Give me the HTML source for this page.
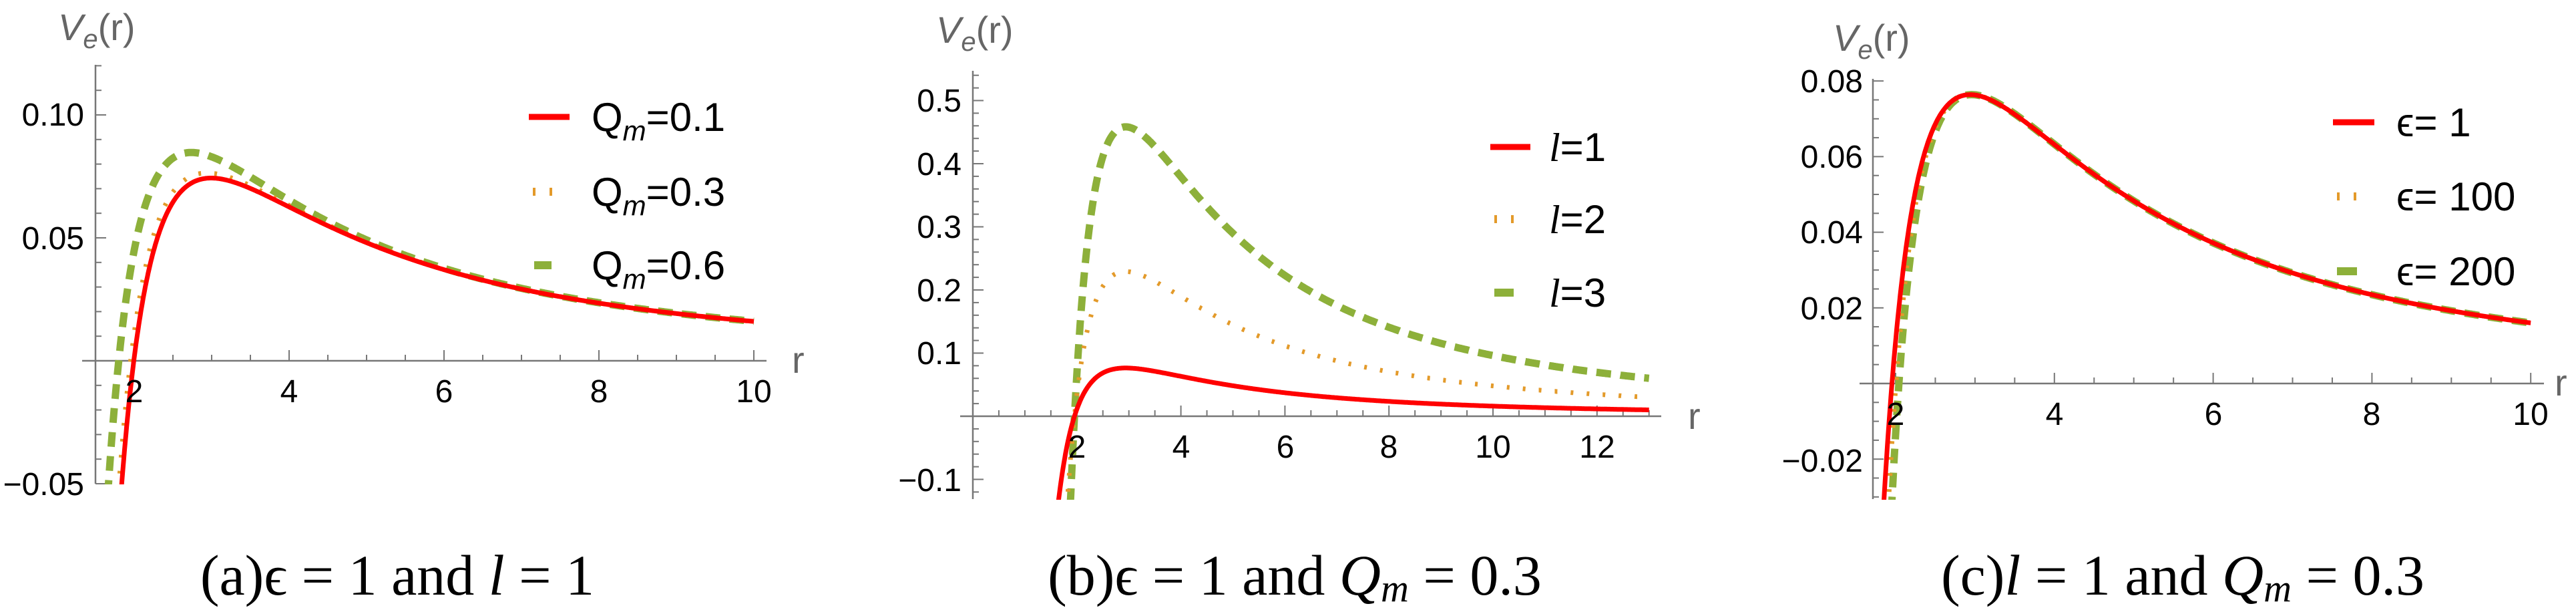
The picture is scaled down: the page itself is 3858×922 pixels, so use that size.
<!DOCTYPE html>
<html><head><meta charset="utf-8">
<style>
html,body{margin:0;padding:0;background:#fff;width:3858px;height:922px;overflow:hidden;}
svg{display:block;}
text{font-family:"Liberation Sans",sans-serif;}
.tk{font-size:48px;fill:#000;}
.cap{font-family:"Liberation Serif",serif;font-size:86px;fill:#000;}
.lg{font-size:60px;fill:#000;}
.ve{font-size:56px;fill:#666;}
</style></head>
<body>
<svg id="s" width="3858" height="922" viewBox="0 0 3858 922" xmlns="http://www.w3.org/2000/svg">
<defs>
<clipPath id="ca"><rect x="100" y="80" width="1100" height="645"/></clipPath>
<clipPath id="cb"><rect x="1400" y="80" width="1100" height="668"/></clipPath>
<clipPath id="cc"><rect x="2780" y="90" width="1050" height="658"/></clipPath>
</defs>
<g id="g"></g>
<text class="ve" x="87" y="60"><tspan font-style="italic">V</tspan><tspan font-size="40" font-style="italic" dy="12">e</tspan><tspan dy="-12">(r)</tspan></text>
<text class="ve" x="1186" y="558">r</text>
<text class="tk" x="126" y="188" text-anchor="end">0.10</text>
<text class="tk" x="126" y="373" text-anchor="end">0.05</text>
<text class="tk" x="126" y="741" text-anchor="end">−0.05</text>
<text class="tk" x="201" y="602" text-anchor="middle">2</text>
<text class="tk" x="433" y="602" text-anchor="middle">4</text>
<text class="tk" x="665" y="602" text-anchor="middle">6</text>
<text class="tk" x="897" y="602" text-anchor="middle">8</text>
<text class="tk" x="1129" y="602" text-anchor="middle">10</text>
<line x1="792" y1="175" x2="853" y2="175" stroke="#f00" stroke-width="9"/>
<line x1="798" y1="287" x2="848" y2="287" stroke="#e39a2a" stroke-width="12" stroke-dasharray="4 21"/>
<line x1="800" y1="397" x2="826" y2="397" stroke="#8db03a" stroke-width="12"/>
<text class="lg" x="886" y="196">Q<tspan font-size="42" font-style="italic" dy="14">m</tspan><tspan dy="-14">=0.1</tspan></text>
<text class="lg" x="886" y="308">Q<tspan font-size="42" font-style="italic" dy="14">m</tspan><tspan dy="-14">=0.3</tspan></text>
<text class="lg" x="886" y="418">Q<tspan font-size="42" font-style="italic" dy="14">m</tspan><tspan dy="-14">=0.6</tspan></text>
<text class="cap" x="595" y="890" text-anchor="middle">(a)ϵ = 1 and <tspan font-style="italic">l</tspan> = 1</text>
<text class="ve" x="1402" y="64"><tspan font-style="italic">V</tspan><tspan font-size="40" font-style="italic" dy="12">e</tspan><tspan dy="-12">(r)</tspan></text>
<text class="ve" x="2528" y="642">r</text>
<text class="tk" x="1440" y="167" text-anchor="end">0.5</text>
<text class="tk" x="1440" y="262" text-anchor="end">0.4</text>
<text class="tk" x="1440" y="356" text-anchor="end">0.3</text>
<text class="tk" x="1440" y="451" text-anchor="end">0.2</text>
<text class="tk" x="1440" y="545" text-anchor="end">0.1</text>
<text class="tk" x="1440" y="735" text-anchor="end">−0.1</text>
<text class="tk" x="1613" y="685" text-anchor="middle">2</text>
<text class="tk" x="1769" y="685" text-anchor="middle">4</text>
<text class="tk" x="1925" y="685" text-anchor="middle">6</text>
<text class="tk" x="2080" y="685" text-anchor="middle">8</text>
<text class="tk" x="2236" y="685" text-anchor="middle">10</text>
<text class="tk" x="2392" y="685" text-anchor="middle">12</text>
<line x1="2232" y1="220" x2="2292" y2="220" stroke="#f00" stroke-width="9"/>
<line x1="2238" y1="328" x2="2270" y2="328" stroke="#e39a2a" stroke-width="12" stroke-dasharray="4 21"/>
<line x1="2238" y1="438" x2="2267" y2="438" stroke="#8db03a" stroke-width="12"/>
<text class="lg" x="2320" y="241"><tspan font-family="Liberation Serif" font-style="italic">l</tspan>=1</text>
<text class="lg" x="2320" y="349"><tspan font-family="Liberation Serif" font-style="italic">l</tspan>=2</text>
<text class="lg" x="2320" y="459"><tspan font-family="Liberation Serif" font-style="italic">l</tspan>=3</text>
<text class="cap" x="1939" y="890" text-anchor="middle">(b)ϵ = 1 and <tspan font-style="italic">Q</tspan><tspan font-style="italic" font-size="58" dy="10">m</tspan><tspan dy="-10"> = 0.3</tspan></text>
<text class="ve" x="2745" y="76"><tspan font-style="italic">V</tspan><tspan font-size="40" font-style="italic" dy="12">e</tspan><tspan dy="-12">(r)</tspan></text>
<text class="ve" x="3826" y="592">r</text>
<text class="tk" x="2790" y="138" text-anchor="end">0.08</text>
<text class="tk" x="2790" y="251" text-anchor="end">0.06</text>
<text class="tk" x="2790" y="364" text-anchor="end">0.04</text>
<text class="tk" x="2790" y="478" text-anchor="end">0.02</text>
<text class="tk" x="2790" y="706" text-anchor="end">−0.02</text>
<text class="tk" x="2839" y="636" text-anchor="middle">2</text>
<text class="tk" x="3077" y="636" text-anchor="middle">4</text>
<text class="tk" x="3315" y="636" text-anchor="middle">6</text>
<text class="tk" x="3552" y="636" text-anchor="middle">8</text>
<text class="tk" x="3790" y="636" text-anchor="middle">10</text>
<line x1="3494" y1="183" x2="3556" y2="183" stroke="#f00" stroke-width="9"/>
<line x1="3500" y1="294" x2="3532" y2="294" stroke="#e39a2a" stroke-width="12" stroke-dasharray="4 21"/>
<line x1="3500" y1="406" x2="3530" y2="406" stroke="#8db03a" stroke-width="12"/>
<text class="lg" x="3589" y="204">ϵ= 1</text>
<text class="lg" x="3589" y="315">ϵ= 100</text>
<text class="lg" x="3589" y="427">ϵ= 200</text>
<text class="cap" x="3269" y="890" text-anchor="middle">(c)<tspan font-style="italic">l</tspan> = 1 and <tspan font-style="italic">Q</tspan><tspan font-style="italic" font-size="58" dy="10">m</tspan><tspan dy="-10"> = 0.3</tspan></text>
</svg>
<script>
var NS="http://www.w3.org/2000/svg",G=document.getElementById("g");
function el(t,a){var e=document.createElementNS(NS,t);for(var k in a)e.setAttribute(k,a[k]);G.appendChild(e);return e;}
function V(r,l,Q){var f=1-2/r+Q*Q/(r*r);return f*l*(l+1)/(r*r);}
function axes(o){
 el("line",{x1:o.x0,y1:o.ay,x2:o.x1,y2:o.ay,stroke:"#777","stroke-width":2.5});
 el("line",{x1:o.ax,y1:o.yT,x2:o.ax,y2:o.yB,stroke:"#777","stroke-width":2.5});
 o.xt.forEach(function(t){var x=o.xf(t[0]);el("line",{x1:x,y1:o.ay,x2:x,y2:o.ay-t[1],stroke:"#777","stroke-width":2});});
 o.yt.forEach(function(t){var y=o.yf(t[0]);el("line",{x1:o.ax,y1:y,x2:o.ax+t[1],y2:y,stroke:"#777","stroke-width":2});});
}
function curve(fn,xf,yf,r0,r1,clip,st){
 var d="",n=900;for(var i=0;i<=n;i++){var r=r0+(r1-r0)*i/n;var v=fn(r);var y=yf(v);if(y>760)y=760;if(y<0)y=0;d+=(i?"L":"M")+xf(r).toFixed(1)+" "+y.toFixed(1);}
 var a={d:d,fill:"none","clip-path":"url(#"+clip+")","stroke-linecap":"butt"};for(var k in st)a[k]=st[k];el("path",a);
}
var RED={stroke:"#f00","stroke-width":7},OR={stroke:"#e39a2a","stroke-width":7,"stroke-dasharray":"4 20"},GR={stroke:"#8db03a","stroke-width":11,"stroke-dasharray":"22 14"};
(function(){var xf=function(r){return 201+(r-2)*116;},yf=function(v){return 540-v*3680;};
 var xt=[];for(var r=1.5;r<=10.01;r+=0.5){xt.push([r,(Math.abs(r-Math.round(r))<1e-6&&Math.round(r)%2==0)?16:9]);}
 var yt=[];for(var v=-0.05;v<=0.1201;v+=0.01){var m=Math.abs(Math.round(v*100)%5)==0;yt.push([v,m?16:9]);}
 axes({ax:143,ay:540,x0:123,x1:1148,yT:97,yB:724,xf:xf,yf:yf,xt:xt,yt:yt});
 curve(function(r){return V(r,1,0.6);},xf,yf,1.5,10,"ca",GR);
 curve(function(r){return V(r,1,0.3);},xf,yf,1.6,10,"ca",OR);
 curve(function(r){return V(r,1,0.1);},xf,yf,1.7,10,"ca",RED);
})();
(function(){var xf=function(r){return 1457+r*77.9;},yf=function(v){return 623-v*945;};
 var xt=[];for(var r=0.5;r<=13.01;r+=0.5){xt.push([r,(Math.abs(r-Math.round(r))<1e-6&&Math.round(r)%2==0)?16:9]);}
 var yt=[];for(var v=-0.12;v<=0.5401;v+=0.02){var m=Math.abs(Math.round(v*100)%10)==0;yt.push([v,m?16:9]);}
 axes({ax:1457,ay:623,x0:1438,x1:2488,yT:106,yB:747,xf:xf,yf:yf,xt:xt,yt:yt});
 curve(function(r){return V(r,3,0.3);},xf,yf,1.5,13,"cb",GR);
 curve(function(r){return V(r,2,0.3);},xf,yf,1.5,13,"cb",OR);
 curve(function(r){return V(r,1,0.3);},xf,yf,1.5,13,"cb",RED);
})();
(function(){var xf=function(r){return 2839+(r-2)*118.9;},yf=function(v){return 574-v*5660;};
 var xt=[];for(var r=2;r<=10.01;r+=0.5){xt.push([r,(Math.abs(r-Math.round(r))<1e-6&&Math.round(r)%2==0)?16:9]);}
 var yt=[];for(var v=-0.03;v<=0.0801;v+=0.005){var m=Math.abs(Math.round(v*1000)%20)==0;yt.push([v,m?16:9]);}
 axes({ax:2805,ay:574,x0:2785,x1:3810,yT:118,yB:747,xf:xf,yf:yf,xt:xt,yt:yt});
 function Ve(d){return function(r){return V(r-d*Math.exp(-(r-1.9)*1.6),1,0.3);};}
 curve(Ve(0.11),xf,yf,1.9,10,"cc",GR);
 curve(Ve(0.06),xf,yf,1.9,10,"cc",OR);
 curve(Ve(0),xf,yf,1.85,10,"cc",RED);
})();
</script>
</body></html>
